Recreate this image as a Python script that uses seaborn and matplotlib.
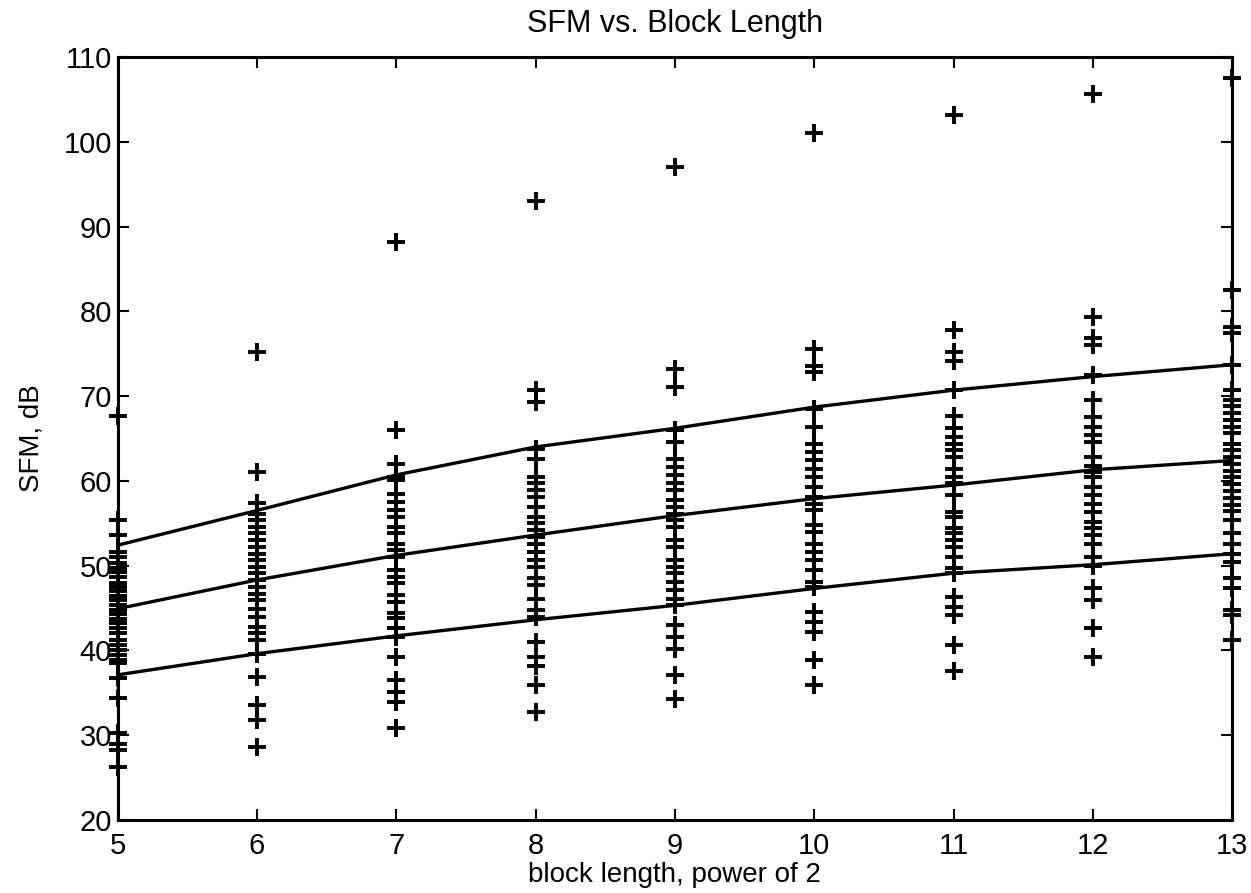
import numpy as np
import pandas as pd
import matplotlib
matplotlib.use("Agg")
import matplotlib.pyplot as plt
import seaborn as sns

# ---- data ----
block_powers = [5, 6, 7, 8, 9, 10, 11, 12, 13]

sfm_5 = [67.7, 55.4, 53.6, 51.6, 51.0, 50.3, 49.7, 49.2, 48.6, 48.0, 47.5, 47.0, 46.4,
         45.9, 45.3, 44.8, 44.3, 43.7, 43.2, 42.6, 42.1, 41.2, 40.6, 40.0, 39.4, 38.9,
         38.5, 36.7, 34.4, 30.2, 29.0, 28.2, 26.2]
sfm_6 = [75.2, 61.1, 57.4, 56.1, 55.4, 54.6, 53.8, 53.0, 52.2, 51.4, 50.6, 49.8, 49.1,
         48.3, 47.5, 46.7, 45.9, 44.9, 43.9, 42.8, 42.0, 41.2, 39.6, 36.9, 33.5, 31.8, 28.6]
sfm_7 = [88.2, 66.0, 62.0, 60.5, 60.1, 58.5, 57.5, 56.5, 55.7, 54.6, 53.8, 52.6, 51.8,
         51.0, 49.5, 48.7, 47.9, 46.5, 45.7, 44.4, 43.8, 42.6, 41.6, 39.2, 36.5, 35.1,
         33.9, 30.8]
sfm_8 = [93.0, 70.7, 69.3, 63.8, 62.6, 60.5, 59.7, 58.9, 58.1, 56.9, 55.7, 55.0, 54.2,
         53.4, 52.6, 51.6, 50.6, 49.8, 48.5, 47.7, 46.1, 44.7, 43.9, 41.0, 39.2, 38.1,
         35.9, 32.7]
sfm_9 = [97.0, 73.2, 71.1, 66.0, 64.6, 62.6, 61.6, 60.7, 59.7, 58.9, 57.7, 56.9, 56.1,
         55.4, 54.6, 53.0, 52.2, 50.6, 49.8, 49.1, 48.1, 47.1, 46.1, 45.3, 43.0, 41.6,
         40.2, 37.1, 34.3]
sfm_10 = [101.0, 75.6, 73.6, 72.8, 68.5, 66.4, 64.4, 63.4, 62.4, 61.4, 60.5, 59.3, 58.1,
          57.3, 56.5, 54.8, 54.0, 52.6, 51.6, 50.6, 49.5, 48.1, 47.5, 44.5, 43.3, 42.2,
          38.8, 35.9]
sfm_11 = [103.2, 77.8, 75.2, 74.2, 70.7, 67.7, 66.2, 65.2, 64.4, 63.6, 62.8, 61.4, 60.5,
          59.7, 58.3, 56.3, 55.7, 54.4, 53.8, 53.0, 52.2, 51.0, 49.7, 49.1, 46.3, 45.1,
          44.2, 40.6, 37.5]
sfm_12 = [105.6, 79.3, 76.8, 76.0, 72.5, 69.5, 67.5, 66.4, 65.4, 64.6, 62.8, 61.8, 61.1,
          60.5, 59.3, 58.3, 57.3, 56.3, 55.2, 54.4, 53.6, 52.6, 51.0, 50.0, 47.3, 45.9,
          42.6, 39.2]
sfm_13 = [107.5, 82.5, 78.1, 77.5, 73.7, 70.7, 69.5, 68.8, 68.0, 67.2, 66.4, 65.6, 64.4,
          63.6, 62.8, 62.0, 61.2, 60.4, 59.6, 58.8, 58.0, 57.2, 56.4, 55.4, 53.8, 52.6,
          51.4, 50.4, 48.5, 47.3, 44.7, 44.2, 41.2]

mean_sfm = [44.9, 48.3, 51.2, 53.6, 55.9, 57.9, 59.5, 61.3, 62.4]
upper_sfm = [52.4, 56.5, 60.7, 64.0, 66.2, 68.7, 70.7, 72.3, 73.7]
lower_sfm = [37.1, 39.6, 41.7, 43.6, 45.3, 47.3, 49.1, 50.1, 51.4]

x_ticks = [5, 6, 7, 8, 9, 10, 11, 12, 13]
y_ticks = [20, 30, 40, 50, 60, 70, 80, 90, 100, 110]

# ---- tidy frames ----
columns = [sfm_5, sfm_6, sfm_7, sfm_8, sfm_9, sfm_10, sfm_11, sfm_12, sfm_13]
pts = pd.DataFrame({
    "block": np.concatenate([[b] * len(c) for b, c in zip(block_powers, columns)]),
    "sfm": np.concatenate(columns),
})
curves = pd.DataFrame({
    "block": block_powers * 3,
    "sfm": mean_sfm + upper_sfm + lower_sfm,
    "curve": ["mean"] * 9 + ["upper"] * 9 + ["lower"] * 9,
})

sns.set_theme(style="ticks")
plt.rcParams["font.family"] = ["Liberation Sans", "DejaVu Sans"]
plt.rcParams["text.color"] = "black"
plt.rcParams["axes.labelcolor"] = "black"

fig = plt.figure(figsize=(12.51, 8.93), dpi=100)
ax = fig.add_axes([0.094, 0.082, 0.891, 0.854])

sns.lineplot(data=curves, x="block", y="sfm", units="curve", estimator=None,
             color="black", linewidth=2.4, ax=ax, legend=False)
sns.scatterplot(data=pts, x="block", y="sfm", marker="+", color="black",
                s=160, linewidth=2.8, ax=ax, legend=False, zorder=3, clip_on=False)

ax.set_xlim(5, 13)
ax.set_ylim(20, 110)
ax.set_xticks(x_ticks)
ax.set_yticks(y_ticks)
ax.tick_params(direction="in", length=8, width=1.5, top=True, right=True,
               labelsize=21, colors="black")
ax.tick_params(axis="x", pad=9)
ax.tick_params(axis="y", pad=4)
for sp in ax.spines.values():
    sp.set_visible(True)
    sp.set_linewidth(2.2)
    sp.set_color("black")

ax.set_title("SFM vs. Block Length", fontsize=22, pad=18, color="black")
ax.set_xlabel("block length, power of 2", fontsize=20, labelpad=1, color="black")
ax.set_ylabel("SFM, dB", fontsize=20, labelpad=14, color="black")

fig.savefig("out.png", dpi=100, facecolor="white")
